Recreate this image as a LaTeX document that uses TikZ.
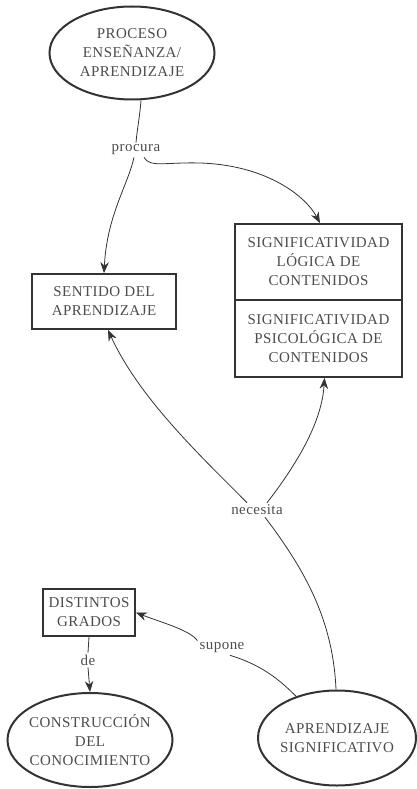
\documentclass[tikz,border=0pt]{standalone}
\usepackage{fontspec}
\setmainfont{Liberation Serif}
\newfontfamily\conceptfont[LetterSpace=3]{Liberation Serif}
\newfontfamily\linkfont[LetterSpace=3]{Liberation Serif}
\usetikzlibrary{shapes.geometric,arrows.meta}
\definecolor{ink}{gray}{0.2}
\definecolor{lettering}{gray}{0.3}
\tikzset{
  concept/.style={draw=ink, line width=2pt, ellipse, inner xsep=-12pt, inner ysep=-6pt, align=center,
    font=\conceptfont\fontsize{15}{19}\selectfont, text=lettering},
  conceptbox/.style={draw=ink, line width=1.8pt, rectangle, inner sep=0pt, align=center,
    font=\conceptfont\fontsize{15}{19}\selectfont, text=lettering},
  linkword/.style={inner sep=2pt, font=\linkfont\fontsize{15}{16}\selectfont, text=lettering},
  link/.style={draw=ink, line width=0.8pt},
  arrowlink/.style={link, -{Stealth[length=11pt,width=8.5pt]}}
}
\begin{document}
\begin{tikzpicture}[x=1pt,y=-1pt]
\useasboundingbox (0,0) rectangle (417,789);

% concepts
\node[concept, minimum width=165pt, minimum height=93pt] (pea) at (132,53)
  {PROCESO\\ENSEÑANZA/\\APRENDIZAJE};
\node[conceptbox, minimum width=144pt, minimum height=55pt] (sentido) at (104,301.5)
  {SENTIDO DEL\\APRENDIZAJE};
\node[conceptbox, minimum width=167pt, minimum height=76pt] (logica) at (318.5,262)
  {SIGNIFICATIVIDAD\\LÓGICA DE\\CONTENIDOS};
\node[conceptbox, minimum width=167pt, minimum height=77pt] (psico) at (318.5,338.5)
  {SIGNIFICATIVIDAD\\PSICOLÓGICA DE\\CONTENIDOS};
\node[conceptbox, minimum width=92pt, minimum height=47pt] (distintos) at (89,612.5)
  {DISTINTOS\\GRADOS};
\node[concept, minimum width=165pt, minimum height=94pt] (constr) at (90,740)
  {CONSTRUCCIÓN\\DEL\\CONOCIMIENTO};
\node[concept, minimum width=158pt, minimum height=95pt] (apsig) at (337,738)
  {APRENDIZAJE\\SIGNIFICATIVO};

% linking words
\node[linkword] (procura) at (136,150) {procura};
\node[linkword] (necesita) at (257,510) {necesita};
\node[linkword] (supone) at (222,648) {supone};
\node[linkword] (de) at (88,660) {de};

% connectors
\draw[link] (pea.south) ++(9pt,0) coordinate (peaout)
  (peaout) .. controls (140,115) and (137,130) .. (procura.north);
\draw[arrowlink] ([xshift=-2pt]procura.south) .. controls (128,185) and (107,215) .. (sentido.north);
\draw[arrowlink] ([xshift=8pt]procura.south) .. controls (150,168) and (165,162) .. (200,163)
  .. controls (265,165) and (305,195) .. ([xshift=1.5pt]logica.north);

\draw[link] ([xshift=-1pt]apsig.north) .. controls (333,620) and (305,570) .. ([xshift=8pt]necesita.south);
\draw[arrowlink] ([xshift=-10pt]necesita.north) .. controls (205,460) and (140,400) .. ([xshift=4pt]sentido.south);
\draw[arrowlink] ([xshift=10pt]necesita.north) .. controls (300,460) and (322,420) .. ([xshift=6pt]psico.south);

\draw[link] (apsig.north west) ++(17pt,6pt) coordinate (apsout)
  (apsout) .. controls (280,680) and (262,665) .. ([xshift=8pt]supone.south);
\draw[arrowlink] (supone.north west) .. controls (190,630) and (160,622) .. (distintos.east);

\draw[link] (distintos.south) -- (de.north);
\draw[arrowlink] (de.south) -- (constr.north);
\end{tikzpicture}
\end{document}
